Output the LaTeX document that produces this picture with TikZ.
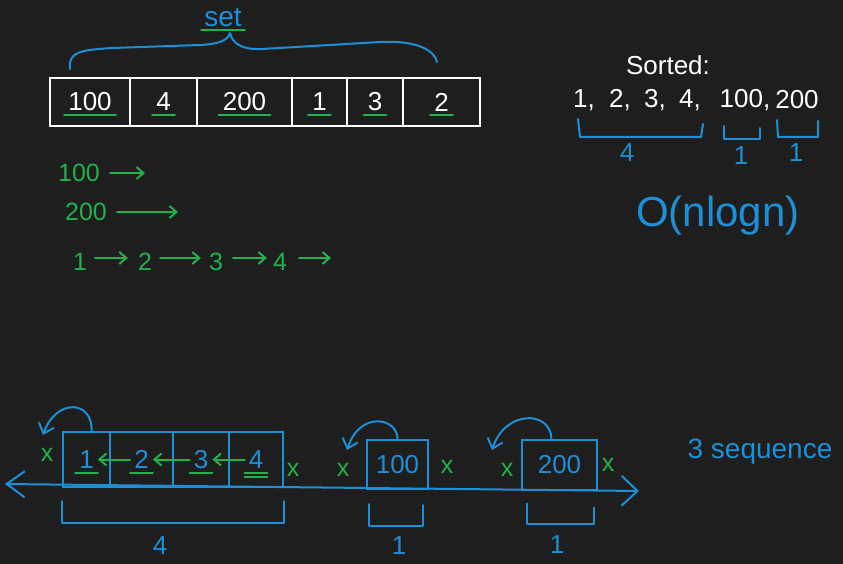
\documentclass[tikz,border=0pt]{standalone}
\usepackage{fontspec}
\setmainfont{Liberation Sans}
\usetikzlibrary{arrows.meta,positioning}
\definecolor{board}{HTML}{1E1E1E}
\definecolor{inkgreen}{HTML}{21B24B}
\definecolor{inkblue}{HTML}{1C8FD6}

\begin{document}
\begin{tikzpicture}[
  x=1pt, y=-1pt,
  wtxt/.style={text=white, font=\fontsize{26}{30}\selectfont, inner sep=4pt},
  btxt/.style={text=inkblue, font=\fontsize{26}{30}\selectfont, inner sep=4pt},
  gtxt/.style={text=inkgreen, font=\fontsize{25}{29}\selectfont, inner sep=2pt},
  wcell/.style={draw=white, line width=1.8pt, minimum height=48pt, inner sep=0pt},
  bcell/.style={draw=inkblue, line width=2pt, minimum height=55pt, inner sep=0pt},
  gul/.style={draw=inkgreen, line width=2pt, line cap=round},
  bline/.style={draw=inkblue, line width=2pt, line cap=round, line join=round},
  garr/.style={gul, -{Straight Barb[length=7pt, width=12pt]}},
  barr/.style={bline, -{Straight Barb[length=9pt, width=16pt]}}
]
\fill[board] (0,0) rectangle (843,564);
\useasboundingbox (0,0) rectangle (843,564);

% input array
\node[wcell, minimum width=80pt] (a1) at (90,102) {};
\node[wcell, minimum width=67pt] (a2) at (163.5,102) {};
\node[wcell, minimum width=95pt] (a3) at (244.5,102) {};
\node[wcell, minimum width=55pt] (a4) at (319.5,102) {};
\node[wcell, minimum width=56pt] (a5) at (375,102) {};
\node[wcell, minimum width=77pt] (a6) at (441.5,102) {};
\node[wtxt] (t1) at (a1) {100};
\node[wtxt] (t2) at (a2) {4};
\node[wtxt] (t3) at (a3) {200};
\node[wtxt] (t4) at (a4) {1};
\node[wtxt] (t5) at (a5) {3};
\node[wtxt] (t6) at (a6) {2};
\draw[gul] (t1.south west) -- (t1.south east);
\draw[gul] (t2.south west) -- (t2.south east);
\draw[gul] (t3.south west) -- (t3.south east);
\draw[gul] (t4.south west) -- (t4.south east);
\draw[gul] (t5.south west) -- (t5.south east);
\draw[gul] (t6.south west) -- (t6.south east);

% set brace
\node[btxt, font=\fontsize{28}{32}\selectfont, inner sep=3pt] (set) at (223,18) {set};
\draw[gul] (set.south west) -- (set.south east);
\draw[bline] ([xshift=-20pt, yshift=8pt]a1.north) .. controls (68,52) and (80,50) .. (112,48)
  -- (200,45) .. controls (220,44) and (228,40) .. (230,33)
  .. controls (232,42) and (240,50) .. (262,49)
  -- (380,42) .. controls (420,40) and (435,52) .. (437,62);

% sorted
\node[wtxt] (srt) at (668,65) {Sorted:};
\node[wtxt] (s1) at (584,100) {1,};
\node[wtxt] (s2) at (620,100) {2,};
\node[wtxt] (s3) at (655,100) {3,};
\node[wtxt] (s4) at (690,100) {4,};
\node[wtxt] (s5) at (745,100) {100,};
\node[wtxt] (s6) at (797,100) {200};
\draw[bline] (578,119) -- (580,137) -- (701,137) -- (703,124);
\draw[bline] (724,126) -- (724,139) -- (760,139) -- (760,128);
\draw[bline] (777,120) -- (778,137) -- (818,137) -- (818,121);
\node[btxt] (k4) at (627,153) {4};
\node[btxt] (k1) at (741,156) {1};
\node[btxt] (k2) at (796,153) {1};
\node[btxt, font=\fontsize{42}{46}\selectfont] (big) at (718,216) {O(nlogn)};

% hash lookups
\node[gtxt] (g100) at (79,173) {100};
\coordinate (ge1) at (145,173);
\draw[garr] ([xshift=8pt]g100.east) -- (ge1);
\node[gtxt] (g200) at (86,212) {200};
\coordinate (ge2) at (178,212);
\draw[garr] ([xshift=8pt]g200.east) -- (ge2);
\node[gtxt] (l1) at (80,262) {1};
\node[gtxt] (l2) at (145,262) {2};
\node[gtxt] (l3) at (216,262) {3};
\node[gtxt] (l4) at (280,262) {4};
\coordinate (le) at (331,258);
\draw[garr] ([xshift=6pt, yshift=4pt]l1.east) -- ([xshift=-8pt, yshift=4pt]l2.west);
\draw[garr] ([xshift=6pt, yshift=4pt]l2.east) -- ([xshift=-6pt, yshift=4pt]l3.west);
\draw[garr] ([xshift=8pt, yshift=4pt]l3.east) -- ([xshift=-4pt, yshift=4pt]l4.west);
\draw[garr] ([xshift=10pt, yshift=4pt]l4.east) -- (le);

% number line
\coordinate (lft) at (5,484);
\coordinate (rgt) at (639,491);
\draw[bline, {Straight Barb[length=18pt, width=26pt]}-{Straight Barb[length=16pt, width=30pt]}] (lft) -- (rgt);

% sequence 1 2 3 4
\node[bcell, minimum width=47pt] (c1) at (86.5,459.5) {};
\node[bcell, minimum width=63pt] (c2) at (141.5,459.5) {};
\node[bcell, minimum width=56pt] (c3) at (201,459.5) {};
\node[bcell, minimum width=54pt] (c4) at (256,459.5) {};
\node[btxt] (n1) at (c1) {1};
\node[btxt] (n2) at (c2) {2};
\node[btxt] (n3) at (c3) {3};
\node[btxt] (n4) at (c4) {4};
\draw[gul] (n1.south west) -- (n1.south east);
\draw[gul] (n2.south west) -- (n2.south east);
\draw[gul] (n3.south west) -- (n3.south east);
\draw[gul] (n4.south west) -- (n4.south east);
\draw[gul] ([yshift=-4pt]n4.south west) -- ([yshift=-4pt]n4.south east);
\draw[garr] (n2.west) -- (n1.east);
\draw[garr] (n3.west) -- (n2.east);
\draw[garr] (n4.west) -- (n3.east);

% sequences 100 and 200
\node[bcell, minimum width=61pt, minimum height=49pt] (c5) at (397.5,464.5) {};
\node[btxt] (n5) at (c5) {100};
\node[bcell, minimum width=75pt, minimum height=50pt] (c6) at (559.5,464.5) {};
\node[btxt] (n6) at (c6) {200};

% left neighbour checks
\coordinate (h1) at (43,435);
\coordinate (h2) at (347,450);
\coordinate (h3) at (492,450);
\draw[barr] ([xshift=5pt]c1.north) .. controls (93,400) and (56,398) .. (h1);
\draw[barr] (c5.north) .. controls (398,418) and (360,410) .. (h2);
\draw[barr] ([xshift=-8pt]c6.north) .. controls (550,410) and (505,410) .. (h3);
\node[gtxt] (x1) at (47,455) {x};
\node[gtxt] (x2) at (293,470) {x};
\node[gtxt] (x3) at (343,470) {x};
\node[gtxt] (x4) at (447,467) {x};
\node[gtxt] (x5) at (507,470) {x};
\node[gtxt] (x6) at (608,465) {x};

% lengths
\draw[bline] ([yshift=-13pt]c1.south west) |- ([yshift=-35pt]c4.south east) -- ([yshift=-13pt]c4.south east);
\draw[bline] ([xshift=3pt, yshift=-14pt]c5.south west) |- ([xshift=-6pt, yshift=-36pt]c5.south east) -- ([xshift=-6pt, yshift=-15pt]c5.south east);
\draw[bline] ([xshift=6pt, yshift=-13pt]c6.south west) |- ([xshift=-4pt, yshift=-33pt]c6.south east) -- ([xshift=-4pt, yshift=-17pt]c6.south east);
\node[btxt] (m4) at (160,546) {4};
\node[btxt] (m1) at (399,546) {1};
\node[btxt] (m2) at (557,545) {1};
\node[btxt, font=\fontsize{28}{32}\selectfont] (seq) at (760,452) {3 sequence};
\end{tikzpicture}
\end{document}
